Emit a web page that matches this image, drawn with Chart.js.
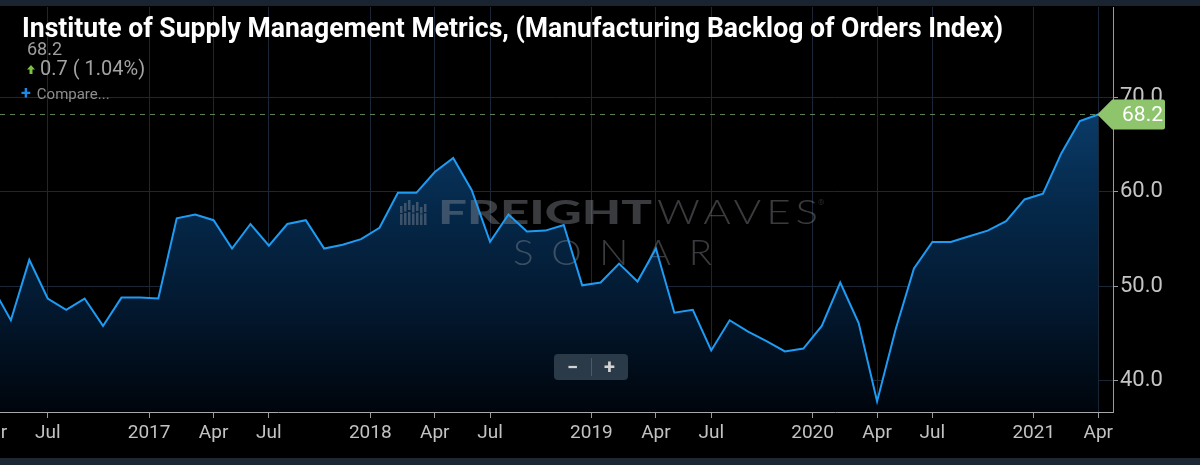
<!DOCTYPE html>
<html>
<head>
<meta charset="utf-8">
<script src="https://cdn.jsdelivr.net/npm/chart.js@4/dist/chart.umd.min.js"></script>
<style>
  html, body { margin: 0; padding: 0; background: #000; }
  #wrap { position: relative; width: 1200px; height: 465px; overflow: hidden; background: #000; font-family: Roboto, sans-serif; }
  #chart { position: absolute; left: 0; top: 0; }
  .band { position: absolute; left: 0; width: 1200px; background: #1a2430; }
  #title { position: absolute; left: 22px; top: 14px; font: 700 28px Roboto; line-height: 28px; color: #fff; white-space: nowrap; transform-origin: 0 0; }
  #last { position: absolute; left: 27px; top: 40px; font: 400 18px Roboto; line-height: 18px; color: #9e9e9e; }
  #chg { position: absolute; left: 27px; top: 58px; font: 400 20px Roboto; line-height: 20px; color: #a3a3a3; white-space: nowrap; }
  #chg svg { vertical-align: 1px; margin-right: 5px; }
  #cmp { position: absolute; left: 21px; top: 85px; font: 400 15px Roboto; line-height: 15px; color: #8d8d8d; white-space: nowrap; }
  #cmp b { color: #1e88e5; font-size: 18px; margin-right: 6px; }
  #zoom { position: absolute; left: 554px; top: 354px; width: 74px; height: 26px; background: #2a3a48; border-radius: 4px; color: #d4d4d4; font: 700 20px Roboto; line-height: 26px; }
  #zoom span { position: absolute; top: 0; width: 37px; text-align: center; }
  #zoom i { position: absolute; left: 37px; top: 4px; width: 1px; height: 18px; background: #4a5a68; }
</style>
</head>
<body>
<div id="wrap">
  <canvas id="chart" width="1200" height="465"></canvas>
  <div class="band" style="top:0;height:6px"></div>
  <div class="band" style="top:458px;height:7px;background:#1c2833"></div>
  <div id="title">Institute of Supply Management Metrics, (Manufacturing Backlog of Orders Index)</div>
  <div id="last">68.2</div>
  <div id="chg"><svg width="8" height="9" viewBox="0 0 8 9"><path d="M4 0 L8 4.5 L5.5 4.5 L5.5 9 L2.5 9 L2.5 4.5 L0 4.5 Z" fill="#7cc242"/></svg>0.7 ( 1.04%)</div>
  <div id="cmp"><b>+</b>Compare...</div>
  <div id="zoom"><span style="left:0">&minus;</span><i></i><span style="left:37px">+</span></div>
</div>
<script>
// Monthly ISM backlog of orders index, Apr 2016 - Apr 2021
const months = [
  '2016-04', '2016-05', '2016-06', '2016-07', '2016-08', '2016-09', '2016-10', '2016-11', '2016-12',
  '2017-01', '2017-02', '2017-03', '2017-04', '2017-05', '2017-06', '2017-07', '2017-08', '2017-09', '2017-10', '2017-11', '2017-12',
  '2018-01', '2018-02', '2018-03', '2018-04', '2018-05', '2018-06', '2018-07', '2018-08', '2018-09', '2018-10', '2018-11', '2018-12',
  '2019-01', '2019-02', '2019-03', '2019-04', '2019-05', '2019-06', '2019-07', '2019-08', '2019-09', '2019-10', '2019-11', '2019-12',
  '2020-01', '2020-02', '2020-03', '2020-04', '2020-05', '2020-06', '2020-07', '2020-08', '2020-09', '2020-10', '2020-11', '2020-12',
  '2021-01', '2021-02', '2021-03', '2021-04'
];
const backlog = [
  49.9, 46.4, 52.8, 48.7, 47.5, 48.7, 45.8, 48.8, 48.8,
  48.7, 57.2, 57.6, 57.0, 54.0, 56.6, 54.3, 56.6, 57.0, 54.0, 54.4, 55.0,
  56.2, 59.9, 59.9, 62.1, 63.6, 60.2, 54.7, 57.6, 55.8, 55.9, 56.5, 50.1,
  50.4, 52.4, 50.5, 54.0, 47.2, 47.5, 43.2, 46.4, 45.2, 44.2, 43.1, 43.4,
  45.8, 50.4, 46.1, 37.8, 45.4, 51.9, 54.7, 54.7, 55.3, 55.9, 56.9, 59.2,
  59.8, 64.1, 67.5, 68.2
];
// x axis ticks: month it belongs to + label (year labels sit on the year boundary)
const tickMonths = ['2016-04', '2016-07', '2017-01', '2017-04', '2017-07', '2018-01', '2018-04', '2018-07',
  '2019-01', '2019-04', '2019-07', '2020-01', '2020-04', '2020-07', '2021-01', '2021-04'];
const tickLabels = ['Apr', 'Jul', '2017', 'Apr', 'Jul', '2018', 'Apr', 'Jul',
  '2019', 'Apr', 'Jul', '2020', 'Apr', 'Jul', '2021', 'Apr'];
const yTicks = [40, 50, 60, 70];

const tickPos = tickMonths.map((m, i) => months.indexOf(m) - (/^\d{4}$/.test(tickLabels[i]) ? 0.5 : 0));
const points = backlog.map((v, i) => ({ x: i, y: v }));
const lastVal = backlog[backlog.length - 1];

// fit the title to the reference width (condensed look)
const title = document.getElementById('title');
title.style.transform = 'scaleX(' + (981 / title.getBoundingClientRect().width) + ')';

Chart.defaults.font.family = 'Roboto';

// draw text stretched to a given width
function fitText(c, text, x, y, w, font, spacing) {
  c.font = font;
  c.letterSpacing = spacing + 'px';
  const m = c.measureText(text).width - spacing;
  c.save();
  c.translate(x, y);
  c.scale(w / m, 1);
  c.fillText(text, 0, 0);
  c.restore();
}

const watermark = {
  id: 'watermark',
  beforeDatasetDraw(chart) {
    const c = chart.ctx;
    c.save();
    c.fillStyle = 'rgba(150,156,164,0.38)';
    // bar icon
    const bars = [[0, 6, 25], [4, 3, 25], [8, 0, 25], [12, 5, 25], [16, 2, 25], [20, 7, 25], [24, 4, 25]];
    bars.forEach(b => {
      c.fillRect(400 + b[0], 200 + b[1], 2.5, 10 - b[1] / 2);
      c.fillRect(400 + b[0], 212 + b[1] / 3, 2.5, 13 - b[1] / 3);
    });
    c.textBaseline = 'alphabetic';
    fitText(c, 'FREIGHT', 438, 224, 214, '900 33px Lato', 0);
    fitText(c, 'WAVES', 657, 224, 161, '300 34px Lato', 4);
    c.font = '300 8px Roboto';
    c.letterSpacing = '0px';
    c.fillText('®', 818, 205);
    fitText(c, 'SONAR', 513, 265, 199, '300 35px Lato', 16);
    c.restore();
  }
};

const lastTag = {
  id: 'lastTag',
  afterDatasetsDraw(chart) {
    const c = chart.ctx, xs = chart.scales.x, ys = chart.scales.y;
    const y = Math.round(ys.getPixelForValue(lastVal)) - 0.5;
    const xe = xs.getPixelForValue(backlog.length - 1);
    c.save();
    c.strokeStyle = '#5d7d52';
    c.lineWidth = 1;
    c.setLineDash([5, 5]);
    c.beginPath();
    c.moveTo(chart.chartArea.left, y);
    c.lineTo(xe, y);
    c.stroke();
    c.restore();
  },
  afterDraw(chart) {
    const c = chart.ctx, xs = chart.scales.x, ys = chart.scales.y;
    const y = ys.getPixelForValue(lastVal);
    const xe = xs.getPixelForValue(backlog.length - 1);
    c.save();
    c.fillStyle = '#8dc46c';
    c.beginPath();
    c.moveTo(xe - 1, y);
    c.lineTo(xe + 14, y - 15);
    c.lineTo(1163, y - 15);
    c.quadraticCurveTo(1165, y - 15, 1165, y - 13);
    c.lineTo(1165, y + 13);
    c.quadraticCurveTo(1165, y + 15, 1163, y + 15);
    c.lineTo(xe + 14, y + 15);
    c.closePath();
    c.fill();
    c.fillStyle = '#fff';
    c.font = '400 21px Roboto';
    c.textAlign = 'right';
    c.textBaseline = 'middle';
    c.fillText(lastVal.toFixed(1), 1163, y + 1);
    c.restore();
  }
};

new Chart(document.getElementById('chart'), {
  type: 'line',
  data: {
    datasets: [{
      data: points,
      borderColor: '#1e9cf4',
      borderWidth: 2,
      pointRadius: 0,
      tension: 0,
      fill: 'start',
      backgroundColor: (ctx) => {
        const a = ctx.chart.chartArea;
        if (!a) return 'rgba(0,0,0,0)';
        const g = ctx.chart.ctx.createLinearGradient(0, a.top, 0, a.bottom);
        g.addColorStop(0, '#0f4e8c');
        g.addColorStop(0.27, '#0a3a66');
        g.addColorStop(0.5, '#052849');
        g.addColorStop(0.72, '#031a32');
        g.addColorStop(1, '#00050c');
        return g;
      }
    }]
  },
  options: {
    responsive: false,
    animation: false,
    layout: { padding: { top: 7, left: 0, right: 0, bottom: 0 } },
    plugins: { legend: { display: false }, tooltip: { enabled: false } },
    scales: {
      x: {
        type: 'linear',
        min: 0.41,
        max: 60.8,
        afterBuildTicks: (s) => { s.ticks = tickPos.map(v => ({ value: v })); },
        afterFit: (s) => { s.height = 53; s.paddingLeft = 0; s.paddingRight = 0; },
        grid: { color: '#1b2737', tickColor: '#9a9a9a', tickLength: 6 },
        border: { color: '#a8a8a8', width: 1 },
        ticks: {
          autoSkip: false, maxRotation: 0, minRotation: 0, padding: 4,
          color: '#c2c2c2', font: { size: 19 },
          callback: (v, i) => tickLabels[i]
        }
      },
      y: {
        position: 'right',
        min: 36.68,
        max: 79.59,
        afterBuildTicks: (s) => { s.ticks = yTicks.map(v => ({ value: v })); },
        afterFit: (s) => { s.width = 87; s.paddingTop = 0; s.paddingBottom = 0; },
        grid: { color: '#1b2737', tickColor: '#9a9a9a', tickLength: 5 },
        border: { color: '#9a9a9a', width: 1 },
        ticks: {
          padding: 2, color: '#c4c4c4', font: { size: 22 },
          callback: (v) => Number(v).toFixed(1)
        }
      }
    }
  },
  plugins: [watermark, lastTag]
});
</script>
</body>
</html>
